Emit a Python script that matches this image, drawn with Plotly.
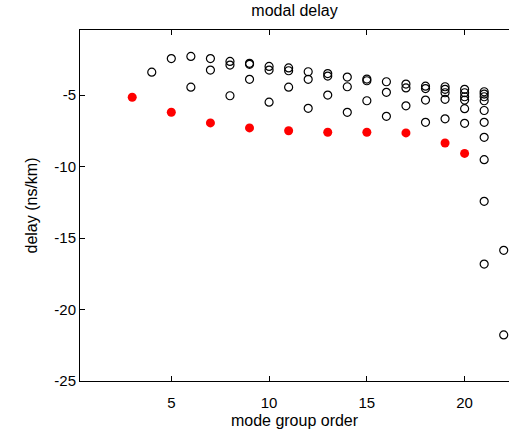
import plotly.graph_objects as go

# filled (red) series
red_x = [3, 5, 7, 9, 11, 13, 15, 17, 19, 20]
red_y = [-5.15, -6.2, -6.95, -7.3, -7.5, -7.6, -7.6, -7.65, -8.35, -9.08]

# open circle series
open_x = [4,
          5,
          6, 6,
          7, 7,
          8, 8, 8,
          9, 9, 9,
          10, 10, 10,
          11, 11, 11,
          12, 12, 12,
          13, 13, 13,
          14, 14, 14,
          15, 15, 15,
          16, 16, 16,
          17, 17, 17,
          18, 18, 18, 18,
          19, 19, 19, 19, 19,
          20, 20, 20, 20, 20, 20,
          21, 21, 21, 21, 21, 21, 21, 21, 21, 21,
          22, 22]
open_y = [-3.4,
          -2.45,
          -2.3, -4.45,
          -2.45, -3.25,
          -2.65, -2.9, -5.05,
          -2.78, -2.85, -3.9,
          -3.0, -3.25, -5.5,
          -3.1, -3.3, -4.45,
          -3.37, -3.9, -5.93,
          -3.5, -3.67, -5.0,
          -3.74, -4.42, -6.21,
          -3.88, -4.0, -5.4,
          -4.07, -4.81, -6.49,
          -4.23, -4.5, -5.75,
          -4.38, -4.55, -5.35, -6.91,
          -4.42, -4.6, -4.84, -5.3, -6.66,
          -4.6, -4.84, -5.12, -5.35, -5.95, -6.98,
          -4.77, -4.93, -5.12, -5.4, -6.08, -6.91, -7.96, -9.52, -12.43, -16.82,
          -15.86, -21.78]

x_ticks = [5, 10, 15, 20]
y_ticks = [-25, -20, -15, -10, -5]

FONT = "Liberation Sans, Arial, sans-serif"

fig = go.Figure()
fig.add_trace(go.Scatter(
    x=open_x, y=open_y, mode="markers",
    marker=dict(symbol="circle-open", size=8, color="black", line=dict(width=1.2, color="black")),
    showlegend=False))
fig.add_trace(go.Scatter(
    x=red_x, y=red_y, mode="markers",
    marker=dict(symbol="circle", size=9, color="#ff0000", line=dict(width=0)),
    showlegend=False))

fig.update_layout(
    width=509, height=430,
    margin=dict(l=80, r=0, t=30, b=49, autoexpand=False),
    paper_bgcolor="white", plot_bgcolor="white",
    font=dict(family=FONT, size=15, color="black"),
    title=dict(text="modal delay", x=0.5, xanchor="center", xref="paper",
               y=1, yref="container", yanchor="top", pad=dict(t=5),
               font=dict(family=FONT, size=16, color="black"), automargin=False),
)
fig.update_xaxes(
    range=[0.33, 22.27], tickvals=x_ticks, ticktext=[str(v) for v in x_ticks],
    ticks="inside", ticklen=5, tickcolor="black", tickwidth=1,
    showline=True, linecolor="black", linewidth=1, mirror="ticks",
    showgrid=False, zeroline=False, automargin=False,
    ticklabelstandoff=8,
    title=dict(text="mode group order", standoff=4, font=dict(size=16)),
    tickfont=dict(size=15),
)
fig.update_yaxes(
    range=[-25, -0.45], tickvals=y_ticks, ticktext=[str(v) for v in y_ticks],
    ticks="inside", ticklen=5, tickcolor="black", tickwidth=1,
    showline=True, linecolor="black", linewidth=1, mirror=False,
    showgrid=False, zeroline=False, automargin=False,
    title=dict(text="delay (ns/km)", standoff=12, font=dict(size=16)),
    tickfont=dict(size=15),
)

fig.write_html("out.html", config={"displayModeBar": False},
               post_script="document.body.style.margin='0';document.body.style.overflow='hidden';")
